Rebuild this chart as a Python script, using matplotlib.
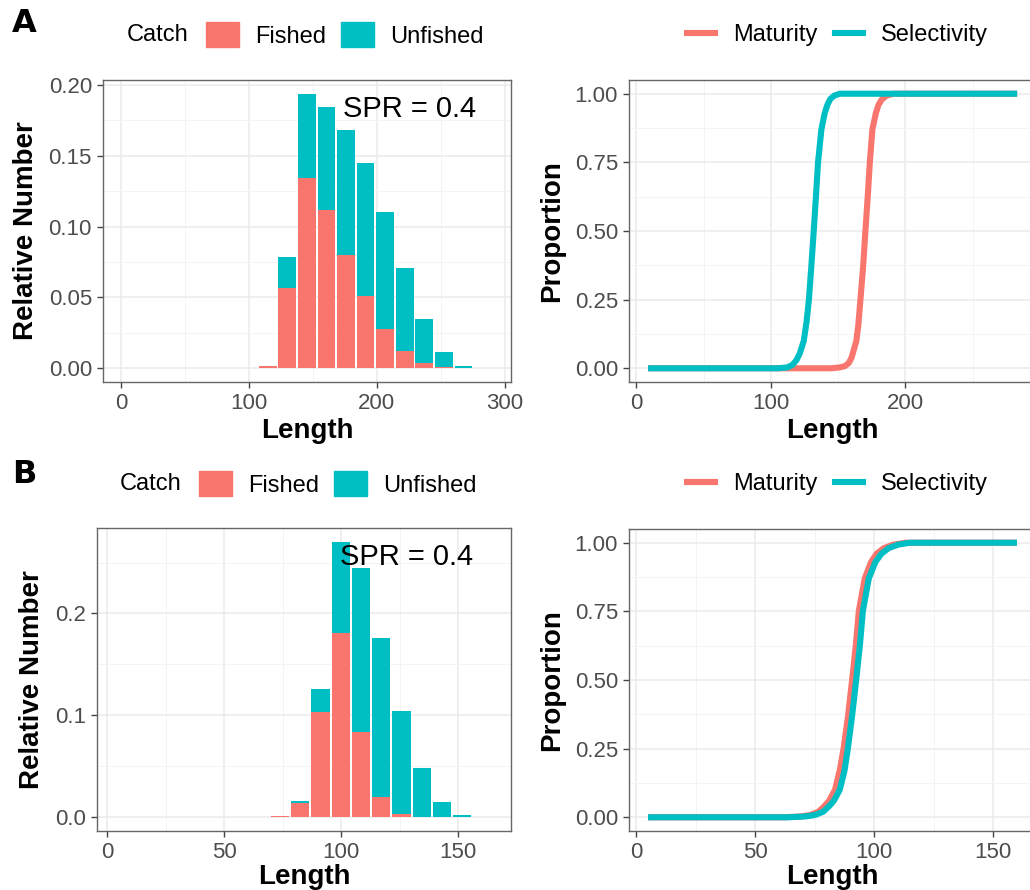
import numpy as np
import matplotlib
matplotlib.use('Agg')
import matplotlib.pyplot as plt
from matplotlib.patches import Patch
from matplotlib.lines import Line2D
from matplotlib.ticker import MultipleLocator

plt.rcParams['font.family'] = ['Liberation Sans', 'DejaVu Sans']

RED = '#F8766D'
TEAL = '#00BFC4'

# ---- panel A: length composition of the catch ----
lenA = [114.8, 130.1, 145.4, 160.7, 176.0, 191.3, 206.6, 221.9, 237.2, 252.5, 267.8]
fishedA = [0.0015, 0.0566, 0.1345, 0.1115, 0.0800, 0.0510, 0.0280, 0.0122, 0.0038, 0.0007, 0.0]
unfishedA = [0.0, 0.0220, 0.0589, 0.0728, 0.0885, 0.0940, 0.0826, 0.0585, 0.0312, 0.0108, 0.0016]

# panel A: maturity and selectivity curves
matA_len = [8.7, 145, 151, 155, 158, 160, 163.5, 165, 166.5, 168.5, 170.2, 172, 173.5, 175.4, 178, 180, 182.5, 186, 191, 283]
matA_prop = [0, 0, 0.003, 0.008, 0.02, 0.04, 0.1, 0.16, 0.25, 0.37, 0.5, 0.63, 0.75, 0.87, 0.93, 0.96, 0.98, 0.993, 1, 1]
selA_len = [8.7, 105, 112, 116, 119, 121.5, 124.4, 126.5, 128.2, 130, 131.8, 133.5, 135, 137.5, 140, 142, 144, 147, 151, 283]
selA_prop = [0, 0, 0.003, 0.012, 0.03, 0.055, 0.1, 0.17, 0.25, 0.37, 0.5, 0.63, 0.75, 0.87, 0.93, 0.96, 0.98, 0.993, 1, 1]

# ---- panel B ----
lenB = [73.8, 82.4, 91.1, 99.7, 108.4, 117.0, 125.7, 134.3, 143.0, 151.6]
fishedB = [0.0010, 0.0131, 0.1033, 0.1810, 0.0833, 0.0190, 0.0026, 0.0, 0.0, 0.0]
unfishedB = [0.0, 0.0026, 0.0227, 0.0890, 0.1617, 0.1570, 0.1014, 0.0475, 0.0141, 0.0013]

matB_len = [4.9, 62, 69, 73, 76.5, 79, 81, 83.5, 85.5, 87.1, 89, 90.7, 92.3, 93.5, 96, 98.7, 101, 104, 108, 113, 160]
matB_prop = [0, 0, 0.003, 0.008, 0.02, 0.04, 0.06, 0.1, 0.17, 0.25, 0.37, 0.5, 0.63, 0.75, 0.87, 0.93, 0.96, 0.98, 0.993, 1, 1]
selB_len = [4.9, 64, 71, 75, 78.5, 81, 83, 85.5, 87.5, 88.9, 90.7, 92.4, 94, 95.2, 97.7, 100.5, 103, 106, 110, 115, 160]
selB_prop = [0, 0, 0.003, 0.008, 0.02, 0.04, 0.06, 0.1, 0.17, 0.25, 0.37, 0.5, 0.63, 0.75, 0.87, 0.93, 0.96, 0.98, 0.993, 1, 1]

spr_label = 'SPR = 0.4'

W, H = 1030, 890
fig = plt.figure(figsize=(W / 100, H / 100), dpi=100)


def box(x0, y0, x1, y1):
    # pixel box (top-left origin) -> figure fraction rect
    return [x0 / W, 1 - y1 / H, (x1 - x0) / W, (y1 - y0) / H]


def style(ax, xmaj, ymaj, yfmt):
    ax.xaxis.set_major_locator(MultipleLocator(xmaj))
    ax.xaxis.set_minor_locator(MultipleLocator(xmaj / 2))
    ax.yaxis.set_major_locator(MultipleLocator(ymaj))
    ax.yaxis.set_minor_locator(MultipleLocator(ymaj / 2))
    ax.yaxis.set_major_formatter(yfmt)
    ax.grid(which='major', color='#EBEBEB', lw=1.1, zorder=0)
    ax.grid(which='minor', color='#F3F3F3', lw=0.6, zorder=0)
    ax.set_axisbelow(True)
    for s in ax.spines.values():
        s.set_color('#666666')
        s.set_linewidth(1.0)
    ax.tick_params(which='major', length=4, width=1, color='#444444', labelsize=16,
                   labelcolor='#4D4D4D', pad=4)
    ax.tick_params(which='minor', length=0)


def hist_panel(rect, lens, fished, unfished, step, xlim, ylim, xmaj, ymaj, yfmt, spr_xy, xpad):
    ax = fig.add_axes(rect)
    style(ax, xmaj, ymaj, yfmt)
    ax.bar(lens, fished, width=step * 0.9, color=RED, zorder=2)
    ax.bar(lens, unfished, bottom=fished, width=step * 0.9, color=TEAL, zorder=2)
    ax.set_xlim(*xlim)
    ax.set_ylim(*ylim)
    ax.set_xlabel('Length', fontsize=20, fontweight='bold', labelpad=xpad)
    ax.set_ylabel('Relative Number', fontsize=20, fontweight='bold', labelpad=7)
    ax.text(spr_xy[0], spr_xy[1], spr_label, fontsize=21, ha='center', va='center', zorder=3)
    return ax


def curve_panel(rect, mlen, mprop, slen, sprop, xlim, xmaj, xpad):
    ax = fig.add_axes(rect)
    style(ax, xmaj, 0.25, lambda v, p: '%.2f' % v)
    ax.plot(mlen, mprop, color=RED, lw=4.4, solid_capstyle='butt', solid_joinstyle='round', zorder=2)
    ax.plot(slen, sprop, color=TEAL, lw=4.4, solid_capstyle='butt', solid_joinstyle='round', zorder=3)
    ax.set_xlim(*xlim)
    ax.set_ylim(-0.05, 1.05)
    ax.set_xlabel('Length', fontsize=20, fontweight='bold', labelpad=xpad)
    ax.set_ylabel('Proportion', fontsize=20, fontweight='bold', labelpad=7)
    return ax


fmt2 = lambda v, p: '%.2f' % v
fmt1 = lambda v, p: '%.1f' % v

hist_panel(box(103, 80, 511, 382), lenA, fishedA, unfishedA, 15.3, (-14, 305), (-0.0097, 0.2035),
           100, 0.05, fmt2, (226, 0.183), 3)
curve_panel(box(629, 80, 1036, 382), matA_len, matA_prop, selA_len, selA_prop, (-5.5, 297), 100, 3)

hist_panel(box(97, 528, 511, 831), lenB, fishedB, unfishedB, 8.64, (-4.4, 172.5), (-0.014, 0.284),
           50, 0.1, fmt1, (128, 0.255), 1)
curve_panel(box(629, 529, 1036, 831), matB_len, matB_prop, selB_len, selB_prop, (-3.1, 168), 50, 1)


def fx(x):
    return x / W


def fy(y):
    return 1 - y / H


# panel letters and legends
for letter, ly, cy, catch_x, key_x in [('A', 24, 35, 127, 206), ('B', 474, 484, 120, 199)]:
    fig.text(fx(12), fy(ly), letter, fontsize=23, fontweight='heavy', family='DejaVu Sans',
             ha='left', va='center')
    fig.text(fx(catch_x), fy(cy), 'Catch', fontsize=17, ha='left', va='center')
    fig.legend(handles=[Patch(color=RED, label='Fished'), Patch(color=TEAL, label='Unfished')],
               loc='center left', bbox_to_anchor=(fx(key_x), fy(cy)), ncol=2, frameon=False,
               fontsize=17, handlelength=1.4, handleheight=1.2, handletextpad=0.68,
               columnspacing=0.62, borderpad=0, borderaxespad=0)
    fig.legend(handles=[Line2D([], [], color=RED, lw=4.4, label='Maturity'),
                        Line2D([], [], color=TEAL, lw=4.4, label='Selectivity')],
               loc='center left', bbox_to_anchor=(fx(687), fy(cy)), ncol=2, frameon=False,
               fontsize=17, handlelength=1.2, handletextpad=0.75, columnspacing=0.75,
               borderpad=0, borderaxespad=0)

fig.savefig('out.png', dpi=100)
